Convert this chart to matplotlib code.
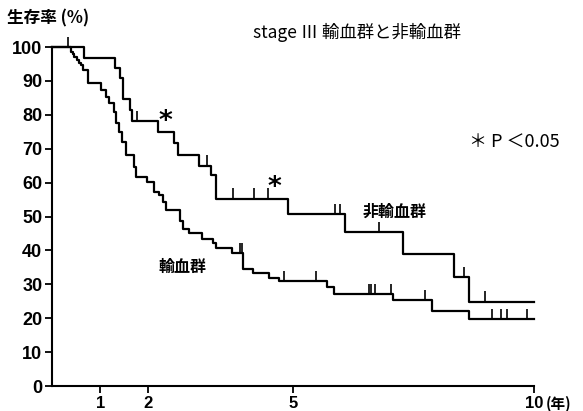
import numpy as np
import matplotlib.pyplot as plt

plt.rcParams['font.family'] = ['Noto Sans CJK JP', 'DejaVu Sans']

# 非輸血群: times of each drop (years) and survival after the drop (%)
nontx_times = [0, 0.66, 1.30, 1.42, 1.47, 1.61, 1.66, 2.19, 2.53, 2.61, 3.04,
               3.29, 3.41, 4.90, 6.07, 7.29, 8.33, 8.66, 10.0]
nontx_surv = [100, 96.8, 93.7, 90.9, 84.6, 81.4, 78.2, 75.0, 71.8, 68.1, 65.0,
              62.2, 55.3, 50.8, 45.5, 39.0, 32.2, 24.9, 24.9]
nontx_censor = [1.76, 3.21, 3.76, 4.20, 4.49, 5.88, 5.98, 6.79, 8.54, 8.99]

# 輸血群
tx_times = [0, 0.39, 0.43, 0.46, 0.51, 0.55, 0.60, 0.64, 0.74, 1.01, 1.12, 1.19,
            1.28, 1.33, 1.39, 1.46, 1.53, 1.70, 1.74, 1.98, 2.11, 2.22, 2.31,
            2.36, 2.66, 2.72, 2.84, 3.12, 3.33, 3.40, 3.74, 3.97, 4.16, 4.50,
            4.71, 5.71, 5.84, 7.07, 7.88, 8.66, 10.0]
tx_surv = [100, 98.6, 98.0, 97.1, 96.2, 95.2, 94.7, 93.2, 89.5, 87.3, 85.3, 83.4,
           80.9, 77.5, 75.0, 72.1, 68.0, 64.6, 61.8, 60.3, 57.2, 56.2, 54.2,
           51.8, 48.7, 46.4, 45.2, 43.4, 42.1, 40.7, 39.2, 34.5, 33.3, 32.0,
           30.9, 29.1, 27.1, 25.3, 22.2, 19.7, 19.7]
tx_censor = [0.33, 3.90, 3.94, 4.81, 5.47, 6.57, 6.62, 6.71, 7.04, 7.74,
             9.12, 9.32, 9.43, 9.85]

xticks = [1, 2, 5, 10]
yticks = list(range(0, 101, 10))

num_font = ['Liberation Sans Narrow', 'Liberation Sans', 'DejaVu Sans']


def level_at(times, surv, t):
    i = np.searchsorted(times, t, side='right') - 1
    return surv[i]


fig = plt.figure(figsize=(5.83, 4.11), dpi=100)
ax = fig.add_axes([0.0892, 0.0608, 0.8268, 0.8248])

for times, surv, cens in [(nontx_times, nontx_surv, nontx_censor),
                          (tx_times, tx_surv, tx_censor)]:
    ax.step(times, surv, where='post', color='black', lw=1.6, clip_on=False)
    ys = [level_at(times, surv, t) for t in cens]
    ax.vlines(cens, ys, np.array(ys) + 3.0, color='black', lw=1.2, clip_on=False)

ax.set_xlim(0, 10)
ax.set_ylim(0, 100)
for s in ['top', 'right']:
    ax.spines[s].set_visible(False)
for s in ['left', 'bottom']:
    ax.spines[s].set_linewidth(1.5)

ax.set_xticks(xticks)
ax.set_yticks(yticks)
ax.tick_params(axis='both', direction='out', length=5, width=1.3, pad=2)
ax.set_xticklabels([str(v) for v in xticks], family=num_font,
                   fontweight='bold', fontsize=12)
ax.set_yticklabels([str(v) for v in yticks], family=num_font,
                   fontweight='bold', fontsize=13)

# labels and annotations
fig.text(0.012, 0.955, '生存率 (%)', fontsize=12, fontweight='bold', va='center')
fig.text(0.434, 0.922, 'stage Ⅲ 輸血群と非輸血群', fontsize=12.5, va='center')
fig.text(0.805, 0.652, '＊ P ＜0.05', fontsize=13, va='center')
ax.text(10.24, -5.2, '(年)', fontsize=10.5, fontweight='bold', va='center',
        ha='left', clip_on=False)
ax.text(2.36, 78.0, '*', fontsize=19, fontweight='bold', ha='center',
        va='center', family='DejaVu Sans')
ax.text(4.62, 58.5, '*', fontsize=19, fontweight='bold', ha='center',
        va='center', family='DejaVu Sans')
ax.text(7.1, 51.4, '非輸血群', fontsize=11.5, fontweight='bold',
        ha='center', va='center')
ax.text(2.71, 35.2, '輸血群', fontsize=11.5, fontweight='bold',
        ha='center', va='center')

fig.savefig('out.png', dpi=100)
